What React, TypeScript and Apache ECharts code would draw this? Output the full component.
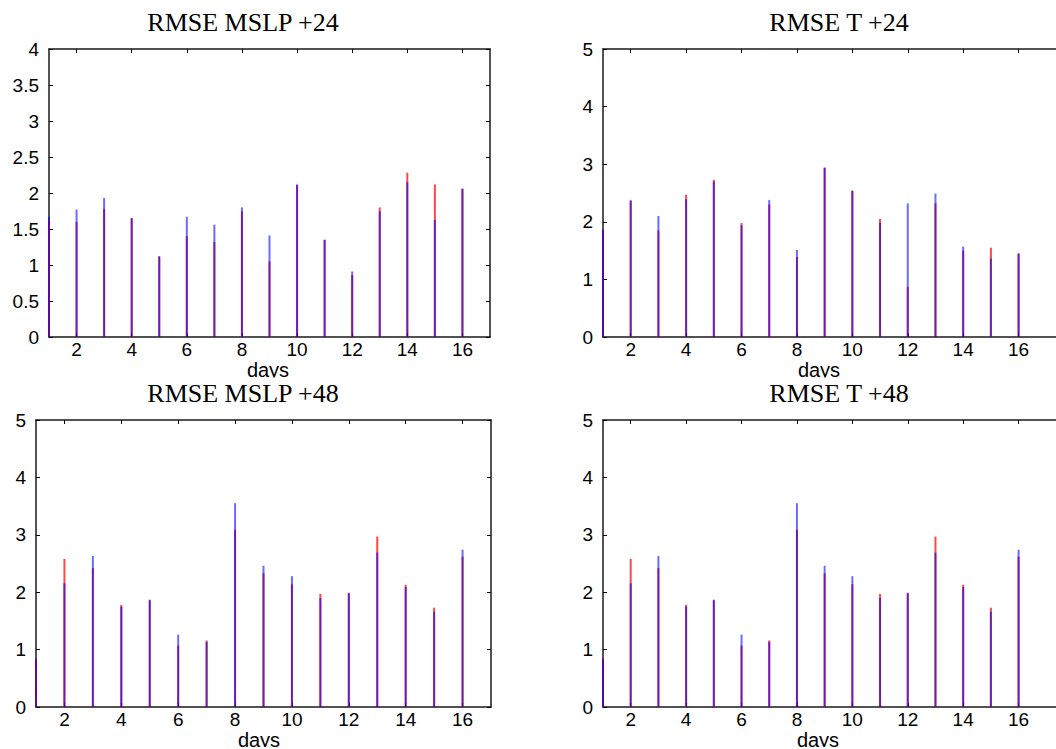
import React, { useEffect, useRef } from "react";
import * as echarts from "echarts";

// ---- data ----
const days = [1, 2, 3, 4, 5, 6, 7, 8, 9, 10, 11, 12, 13, 14, 15, 16];
const xTickValues = [2, 4, 6, 8, 10, 12, 14, 16];

const mslp24Red = [1.62, 1.6, 1.78, 1.65, 1.12, 1.4, 1.32, 1.745, 1.05, 2.11, 1.35, 0.86, 1.8, 2.28, 2.12, 2.06];
const mslp24Blue = [1.67, 1.77, 1.93, 1.65, 1.12, 1.67, 1.56, 1.8, 1.41, 2.12, 1.35, 0.91, 1.745, 2.15, 1.625, 2.06];

const t24Red = [1.86, 2.37, 1.85, 2.47, 2.73, 1.98, 2.3, 1.39, 2.94, 2.54, 2.05, 0.87, 2.32, 1.5, 1.55, 1.45];
const t24Blue = [1.86, 2.37, 2.1, 2.39, 2.7, 1.94, 2.38, 1.51, 2.94, 2.54, 1.98, 2.32, 2.49, 1.57, 1.36, 1.45];

const mslp48Red = [0.84, 2.58, 2.42, 1.78, 1.86, 1.07, 1.16, 3.09, 2.33, 2.14, 1.97, 1.98, 2.97, 2.13, 1.73, 2.62];
const mslp48Blue = [0.84, 2.155, 2.63, 1.75, 1.87, 1.26, 1.135, 3.55, 2.46, 2.28, 1.9, 1.99, 2.69, 2.09, 1.66, 2.74];

const t48Red = [0.84, 2.58, 2.42, 1.78, 1.86, 1.07, 1.16, 3.09, 2.33, 2.14, 1.97, 1.98, 2.97, 2.13, 1.73, 2.62];
const t48Blue = [0.84, 2.155, 2.63, 1.75, 1.87, 1.26, 1.135, 3.55, 2.46, 2.28, 1.9, 1.99, 2.69, 2.09, 1.66, 2.74];

const titles = ["RMSE MSLP +24", "RMSE T +24", "RMSE MSLP +48", "RMSE T +48"];
const xAxisName = "days";

// ---- layout ----
const CHART_W = 1100; // right-hand panels run past the visible 1056px edge
const panels = [
  { title: titles[0], red: mslp24Red, blue: mslp24Blue, yMax: 4, yStep: 0.5, xMax: 17,
    grid: { left: 49, top: 49, width: 441, height: 288 }, titleAt: [243, 22.5], nameAt: [268, 369.5], cutY: 377.5 },
  { title: titles[1], red: t24Red, blue: t24Blue, yMax: 5, yStep: 1, xMax: 18,
    grid: { left: 603, top: 49, width: 471, height: 288 }, titleAt: [839, 22.5], nameAt: [819, 369.5], cutY: 377.5 },
  { title: titles[2], red: mslp48Red, blue: mslp48Blue, yMax: 5, yStep: 1, xMax: 17,
    grid: { left: 36, top: 420, width: 455, height: 287 }, titleAt: [243, 393], nameAt: [259, 739.5], cutY: 747 },
  { title: titles[3], red: t48Red, blue: t48Blue, yMax: 5, yStep: 1, xMax: 18,
    grid: { left: 603, top: 420, width: 471, height: 287 }, titleAt: [839, 393], nameAt: [818, 739.5], cutY: 747 },
];

const frame = { color: "#1a1a1a", width: 1.5 };
const tickFont = { fontSize: 19, fontFamily: "Liberation Sans, Arial, sans-serif", color: "#000" };

function buildOption() {
  const grid: any[] = [];
  const xAxis: any[] = [];
  const yAxis: any[] = [];
  const series: any[] = [];
  const graphic: any[] = [];

  panels.forEach((p, i) => {
    grid.push({ ...p.grid, show: false, containLabel: false });
    const xBase = {
      type: "value", gridIndex: i, min: 1, max: p.xMax,
      axisLine: { show: true, onZero: false, lineStyle: frame },
      axisTick: { show: true, inside: true, length: 4, customValues: xTickValues, lineStyle: { color: "#000", width: 1 } },
      splitLine: { show: false },
    };
    xAxis.push({ ...xBase, position: "bottom", axisLabel: { show: true, customValues: xTickValues, margin: 3, ...tickFont } });
    xAxis.push({ ...xBase, position: "top", axisLabel: { show: false } });
    const yBase = {
      type: "value", gridIndex: i, min: 0, max: p.yMax, interval: p.yStep,
      axisLine: { show: true, onZero: false, lineStyle: frame },
      axisTick: { show: true, inside: true, length: 4, lineStyle: { color: "#000", width: 1 } },
      splitLine: { show: false },
    };
    yAxis.push({ ...yBase, position: "left", axisLabel: { show: true, margin: 10, ...tickFont } });
    yAxis.push({ ...yBase, position: "right", axisLabel: { show: false } });

    series.push({
      type: "bar", name: "red", xAxisIndex: 2 * i, yAxisIndex: 2 * i,
      data: days.map((d, k) => [d, p.red[k]]),
      barWidth: 2, barGap: "-100%",
      itemStyle: { color: "rgba(255,0,0,0.72)" },
    });
    series.push({
      type: "bar", name: "blue", xAxisIndex: 2 * i, yAxisIndex: 2 * i,
      data: days.map((d, k) => [d, p.blue[k]]),
      barWidth: 2, barGap: "-100%",
      itemStyle: { color: "rgba(0,0,255,0.58)" },
    });

    graphic.push({
      type: "text", x: p.titleAt[0], y: p.titleAt[1], z: 10,
      style: { text: p.title, fill: "#000", font: "26px 'Liberation Serif', 'Times New Roman', serif", textAlign: "center", textVerticalAlign: "middle" },
    });
    graphic.push({
      type: "text", x: p.nameAt[0], y: p.nameAt[1], z: 10,
      style: { text: xAxisName, fill: "#000", font: "20px 'Liberation Sans', Arial, sans-serif", textAlign: "center", textVerticalAlign: "middle" },
    });
    graphic.push({
      type: "rect", z: 20,
      shape: { x: p.nameAt[0] - 40, y: p.cutY, width: 80, height: 4.5 },
      style: { fill: "#fff" },
    });
  });

  return {
    animation: false,
    backgroundColor: "#fff",
    grid, xAxis, yAxis, series, graphic,
  };
}

export default function App() {
  const ref = useRef<HTMLDivElement>(null);
  useEffect(() => {
    if (!ref.current) return;
    const chart = echarts.init(ref.current, undefined, { renderer: "svg" });
    chart.setOption(buildOption() as any);
    return () => chart.dispose();
  }, []);
  return (
    <div style={{ position: "fixed", left: 0, top: 0, width: 1056, height: 749, overflow: "hidden", background: "#fff" }}>
      <div ref={ref} style={{ width: CHART_W, height: 749 }} />
    </div>
  );
}
